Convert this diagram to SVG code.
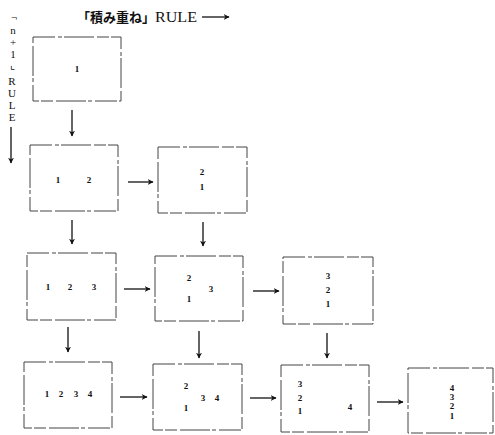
<svg xmlns="http://www.w3.org/2000/svg" width="495" height="435" viewBox="0 0 495 435">
<style>
.box{fill:none;stroke:#444;stroke-width:1;stroke-dasharray:22 3 4 2 30 3 12 2}
.d{font-family:"Liberation Serif",serif;font-size:9px;font-weight:bold;fill:#111;text-anchor:middle}
.h{font-family:"Liberation Serif","Noto Sans CJK JP",serif;font-size:13px;fill:#111}
.v{font-family:"Liberation Serif",serif;font-size:11px;fill:#111;text-anchor:middle}
.a{stroke:#111;stroke-width:1.3;fill:none;marker-end:url(#ah)}
</style>
<defs>
<marker id="ah" viewBox="0 0 10 10" refX="9" refY="5" markerWidth="6" markerHeight="6" orient="auto" markerUnits="userSpaceOnUse">
<path d="M0,0 L10,5 L0,10 L3,5 Z" fill="#111"/>
</marker>
</defs>
<rect width="495" height="435" fill="#fff"/>
<g id="header">
<text class="h" x="77" y="22"><tspan font-weight="bold">「積み重ね」</tspan><tspan x="155" font-size="14" textLength="42" lengthAdjust="spacingAndGlyphs">RULE</tspan></text>
<line class="a" x1="202" y1="17" x2="229" y2="17"/>
</g>
<g id="sidelabel">
<text class="v" x="14" y="21" font-size="8">¬</text>
<text class="v" x="13" y="34">n</text>
<text class="v" x="13" y="46">+</text>
<text class="v" x="13" y="58">1</text>
<text class="v" x="12" y="69" font-size="8">⌞</text>
<text class="v" x="12" y="85">R</text>
<text class="v" x="12" y="97">U</text>
<text class="v" x="12" y="109">L</text>
<text class="v" x="12" y="121">E</text>
<line class="a" x1="11" y1="127" x2="11" y2="163"/>
</g>
<g id="n1"><rect class="box" x="33" y="37" width="88" height="64"/><text class="d" x="77" y="72">1</text></g>
<g id="n12"><rect class="box" x="30" y="145" width="88" height="66"/><text class="d" x="58" y="183">1</text><text class="d" x="89" y="183">2</text></g>
<g id="n21"><rect class="box" x="158" y="147" width="89" height="66"/><text class="d" x="202" y="175">2</text><text class="d" x="202" y="190">1</text></g>
<g id="n123"><rect class="box" x="27" y="253" width="89" height="67"/><text class="d" x="48" y="290">1</text><text class="d" x="70" y="290">2</text><text class="d" x="94" y="290">3</text></g>
<g id="n213"><rect class="box" x="155" y="256" width="88" height="65"/><text class="d" x="189" y="281">2</text><text class="d" x="189" y="302">1</text><text class="d" x="211" y="292">3</text></g>
<g id="n321"><rect class="box" x="283" y="257" width="90" height="67"/><text class="d" x="328" y="279">3</text><text class="d" x="328" y="293">2</text><text class="d" x="328" y="307">1</text></g>
<g id="n1234"><rect class="box" x="24" y="362" width="88" height="66"/><text class="d" x="47" y="397">1</text><text class="d" x="61" y="397">2</text><text class="d" x="76" y="397">3</text><text class="d" x="90" y="397">4</text></g>
<g id="n2134"><rect class="box" x="153" y="364" width="89" height="66"/><text class="d" x="186" y="389">2</text><text class="d" x="186" y="411">1</text><text class="d" x="203" y="401">3</text><text class="d" x="217" y="401">4</text></g>
<g id="n3214"><rect class="box" x="281" y="365" width="88" height="67"/><text class="d" x="300" y="387">3</text><text class="d" x="300" y="401">2</text><text class="d" x="300" y="414">1</text><text class="d" x="350" y="410">4</text></g>
<g id="n4321"><rect class="box" x="408" y="368" width="85" height="65"/><text class="d" x="452" y="391">4</text><text class="d" x="452" y="400">3</text><text class="d" x="452" y="409">2</text><text class="d" x="452" y="419">1</text></g>
<g id="connectors">
<line class="a" x1="72" y1="110" x2="72" y2="136"/>
<line class="a" x1="128" y1="182" x2="153" y2="182"/>
<line class="a" x1="72" y1="220" x2="72" y2="244"/>
<line class="a" x1="203" y1="222" x2="203" y2="246"/>
<line class="a" x1="124" y1="289" x2="150" y2="289"/>
<line class="a" x1="253" y1="291" x2="279" y2="291"/>
<line class="a" x1="68" y1="327" x2="68" y2="352"/>
<line class="a" x1="199" y1="331" x2="199" y2="358"/>
<line class="a" x1="327" y1="333" x2="327" y2="358"/>
<line class="a" x1="120" y1="397" x2="147" y2="397"/>
<line class="a" x1="250" y1="398" x2="276" y2="398"/>
<line class="a" x1="377" y1="402" x2="403" y2="402"/>
</g>
</svg>
